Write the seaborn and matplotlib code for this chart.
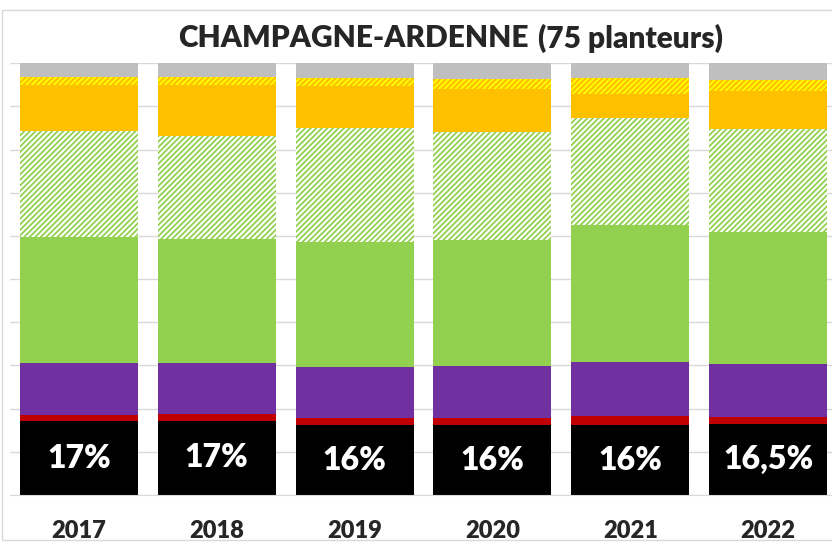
import numpy as np
import pandas as pd
import seaborn as sns
import matplotlib.pyplot as plt
from matplotlib.patches import Rectangle

# Parts of each bar, bottom to top (in %)
years = ["2017", "2018", "2019", "2020", "2021", "2022"]
black = [17.1, 17.2, 16.2, 16.2, 16.1, 16.4]
red = [1.4, 1.6, 1.6, 1.6, 2.2, 1.7]
purple = [12.1, 11.8, 11.9, 12.1, 12.5, 12.2]
green = [29.2, 28.7, 29.0, 29.2, 31.7, 30.6]
green_hatch = [24.6, 23.9, 26.2, 25.1, 24.9, 23.8]
orange = [10.6, 11.8, 9.9, 9.8, 5.4, 8.8]
yellow_hatch = [1.8, 1.8, 1.9, 2.3, 3.7, 2.6]
grey = [3.2, 3.2, 3.3, 3.7, 3.5, 3.9]
labels = ["17%", "17%", "16%", "16%", "16%", "16,5%"]

layers = [
    ("black", black, "#000000", None, None),
    ("red", red, "#C00000", None, None),
    ("purple", purple, "#7030A0", None, None),
    ("green", green, "#92D050", None, None),
    ("green_hatch", green_hatch, "#FFFFFF", "//////", "#92D050"),
    ("orange", orange, "#FFC000", None, None),
    ("yellow_hatch", yellow_hatch, "#FFC000", "//////", "#FFFF00"),
    ("grey", grey, "#BFBFBF", None, None),
]

df = pd.DataFrame({"year": years})
running = np.zeros(len(years))
for name, vals, *_ in layers:
    running = running + np.array(vals)
    df[name] = running

sns.set_style("white")
plt.rcParams["font.family"] = ["Lato", "DejaVu Sans"]
plt.rcParams["hatch.linewidth"] = 1.3

fig = plt.figure(figsize=(8.32, 5.47), dpi=100)
ax = fig.add_axes([10 / 832, 52 / 547, 827 / 832, 431.7 / 547])

# draw cumulative totals from the top layer down so each covers the one above
for name, vals, color, hatch, hcolor in reversed(layers):
    n_before = len(ax.patches)
    sns.barplot(data=df, x="year", y=name, color=color, saturation=1,
                width=0.855, linewidth=0, ax=ax, zorder=2)
    for p in ax.patches[n_before:]:
        if hatch:
            p.set_hatch(hatch)
            p.set_edgecolor(hcolor)
            if hasattr(p, "set_hatchcolor"):
                p.set_hatchcolor(hcolor)
            p.set_linewidth(0)

for i, lab in enumerate(labels):
    ax.text(i, black[i] / 2, lab, color="white", fontsize=23, fontweight="heavy",
            ha="center", va="center", zorder=5)

ax.set_xlim(-0.5, 5.5)
ax.set_ylim(0, 100)
ax.set_yticks(range(0, 101, 10))
ax.yaxis.grid(True, color="#D9D9D9", linewidth=1)
ax.set_axisbelow(True)
ax.tick_params(axis="y", left=False, labelleft=False)
ax.set_xlabel("")
ax.set_ylabel("")
ax.set_xticks(range(6))
ax.set_xticklabels(years, fontsize=17, fontweight="heavy")
ax.tick_params(axis="x", which="major", length=0, pad=18)
ax.set_xticks(np.arange(-0.5, 6, 1), minor=True)
ax.tick_params(axis="x", which="minor", length=6, color="#D9D9D9", width=1)
for s in ["left", "right", "top"]:
    ax.spines[s].set_visible(False)
ax.spines["bottom"].set_color("#D9D9D9")

# chart frame
fig.patches.append(Rectangle((2 / 832, 7 / 547), 840 / 832, 530 / 547,
                             transform=fig.transFigure, fill=False,
                             edgecolor="#D9D9D9", linewidth=1))

t1 = fig.text(178 / 832, 509 / 547, "CHAMPAGNE-ARDENNE", fontsize=21.5,
              fontweight="heavy", ha="left", va="center")
fig.canvas.draw()
bb = t1.get_window_extent()
fig.text((bb.x1 + 9) / 832, 509 / 547, "(75 planteurs)", fontsize=21.5,
         fontweight="heavy", ha="left", va="center")

fig.savefig("out.png", dpi=100)
